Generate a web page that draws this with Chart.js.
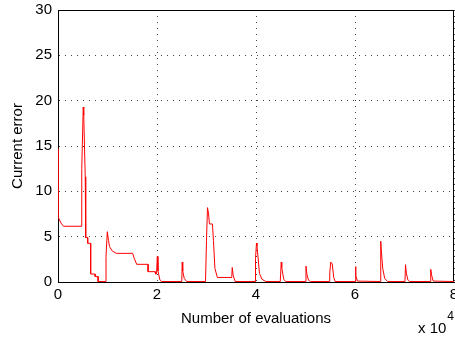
<!DOCTYPE html>
<html>
<head>
<meta charset="utf-8">
<script src="https://cdn.jsdelivr.net/npm/chart.js@4/dist/chart.umd.min.js"></script>
<style>
  html,body{margin:0;padding:0;background:#fff;}
  #wrap{width:455px;height:338px;}
</style>
</head>
<body>
<div id="wrap"><canvas id="errChart" width="455" height="338"></canvas></div>
<script>
// error trace (x = number of evaluations)
const evals = [
  0, 0, 600, 1100, 4800, 4800, 5100, 5200, 5500, 5600, 5600, 6000, 6000, 6600, 6600, 7500, 7500, 8100, 8100, 9700,
  9700, 9960, 10200, 10400, 11000, 11800, 15100, 15400, 15900, 18200, 18200, 19600, 19700, 19900,
  20060, 20200, 20600, 20900, 21200,
  25000, 25100, 25200, 25500, 26000,
  29800, 30000, 30200, 30400, 30600, 31200, 31400, 31700, 32200, 35100, 35200, 35400, 35800,
  39800, 39900, 40100, 40200, 40700, 41200, 42000,
  44900, 45100, 45200, 45600, 46000,
  50000, 50100, 50300, 50600, 51000,
  54800, 54900, 55100, 55400, 55700, 56000,
  60000, 60100, 60200, 60500,
  65100, 65200, 65300, 65600, 66000, 66600,
  70100, 70200, 70400, 70700, 71000,
  75200, 75300, 75500, 75800, 80000
];
const errors = [
  14.7, 7.2, 6.5, 6.15, 6.15, 12.5, 19.3, 18.4, 11.6, 5.1, 4.9, 4.9, 4.27, 4.27, 0.88, 0.88, 0.6, 0.6, 0.05, 0.05,
  2.8, 5.55, 4.6, 3.9, 3.4, 3.16, 3.16, 2.6, 1.95, 1.95, 1.14, 1.14, 0.88, 0.88,
  2.8, 1.2, 0.2, 0.05, 0.05,
  0.05, 2.2, 1.2, 0.4, 0.05,
  0.05, 4.6, 8.2, 7.6, 6.4, 6.4, 4.6, 1.5, 0.5, 0.5, 1.6, 0.7, 0.05,
  0.05, 2.6, 4.3, 4.0, 0.95, 0.3, 0.05,
  0.05, 2.2, 1.6, 0.3, 0.05,
  0.05, 1.75, 0.8, 0.2, 0.05,
  0.05, 1.0, 2.2, 2.0, 0.5, 0.05,
  0.05, 1.7, 0.7, 0.1,
  0.05, 4.5, 3.6, 1.5, 0.4, 0.05,
  0.05, 1.9, 0.9, 0.2, 0.05,
  0.05, 1.4, 0.7, 0.1, 0.05
];
const xTicks = [0, 20000, 40000, 60000, 80000];
const yTicks = [0, 5, 10, 15, 20, 25, 30];
const xTitle = 'Number of evaluations';
const yTitle = 'Current error';
const xExponent = '4';

const points = evals.map((x,i)=>({x:x, y:errors[i]}));
const fontFam = '"Liberation Sans", Arial, Helvetica, sans-serif';

// box round the plot + the MATLAB "x 10^4" multiplier
const framePlugin = {
  id: 'frame',
  beforeDatasetsDraw(chart){
    const a = chart.chartArea, ctx = chart.ctx;
    ctx.save();
    ctx.strokeStyle = '#000';
    ctx.lineWidth = 1;
    ctx.setLineDash([]);
    ctx.strokeRect(a.left+0.5, a.top+0.5, a.right-a.left-1, a.bottom-a.top);
    ctx.restore();
  },
  afterDraw(chart){
    const a = chart.chartArea, ctx = chart.ctx;
    ctx.save();
    ctx.fillStyle = '#000';
    ctx.textBaseline = 'alphabetic';
    ctx.textAlign = 'right';
    ctx.font = '12px ' + fontFam;
    ctx.fillText(xExponent, a.right, a.bottom+38);
    const w = ctx.measureText(xExponent).width;
    ctx.font = '15px ' + fontFam;
    ctx.fillText('x 10', a.right-1-w, a.bottom+51);
    ctx.restore();
  }
};

const noPad = s => { s.paddingLeft = 0; s.paddingRight = 0; s.paddingTop = 0; s.paddingBottom = 0; };

new Chart(document.getElementById('errChart').getContext('2d'), {
  type: 'line',
  data: {
    datasets: [{
      data: points,
      borderColor: '#ff0000',
      borderWidth: 1,
      pointRadius: 0,
      tension: 0,
      fill: false
    }]
  },
  options: {
    responsive: false,
    animation: false,
    layout: { padding: { top: 10, right: 1, left: 0, bottom: 0 } },
    plugins: { legend: { display: false }, tooltip: { enabled: false } },
    scales: {
      x: {
        type: 'linear',
        min: 0, max: 80000,
        afterFit: s => { s.height = 56; noPad(s); },
        afterBuildTicks: s => { s.ticks = xTicks.map(v=>({value:v})); },
        ticks: { padding: 4, color: '#000', font: { family: fontFam, size: 15 }, callback: v => String(v/10000) },
        grid: { color: '#444', drawTicks: false, lineWidth: 1 },
        border: { display: true, color: '#000', width: 1, dash: [1,5] },
        title: { display: true, text: xTitle, color: '#000', font: { family: fontFam, size: 15 }, padding: { top: 0, bottom: 10 } }
      },
      y: {
        min: 0, max: 30,
        afterFit: s => { s.width = 58; noPad(s); },
        afterBuildTicks: s => { s.ticks = yTicks.map(v=>({value:v})); },
        ticks: { padding: 6, color: '#000', font: { family: fontFam, size: 15 } },
        grid: { color: '#444', drawTicks: false, lineWidth: 1 },
        border: { display: true, color: '#000', width: 1, dash: [1,5] },
        title: { display: true, text: yTitle, color: '#000', font: { family: fontFam, size: 15 }, padding: { top: 9, bottom: 0 } }
      }
    }
  },
  plugins: [framePlugin]
});
</script>
</body>
</html>
